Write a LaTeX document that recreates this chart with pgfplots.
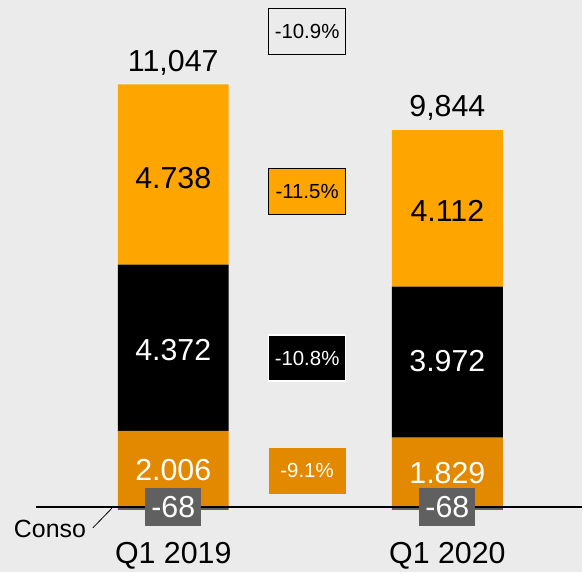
\documentclass[border=0pt]{standalone}
\usepackage{pgfplots}
\pgfplotsset{compat=1.18}
\usepackage{fontspec}
\setmainfont{Liberation Sans}
\definecolor{bg}{RGB}{235,235,235}
\definecolor{topor}{RGB}{255,165,0}
\definecolor{botor}{RGB}{226,137,0}
\definecolor{negg}{RGB}{96,96,96}
\tikzset{
 big/.style={font=\fontsize{30.5}{36}\selectfont},
 negbox/.style={big, fill=negg, text=white, minimum width=56bp, minimum height=38bp, inner sep=0pt},
 pct/.style={font=\fontsize{20.5}{24}\selectfont, minimum width=77bp, minimum height=46bp, inner sep=0pt}
}
\pgfplotsset{base/.style={
 scale only axis, width=583bp, height=573bp,
 xmin=0, xmax=583, ymin=-1706, ymax=13331,
 clip=false}}
\begin{document}
\begin{tikzpicture}
\begin{axis}[
 base,
 ybar stacked, bar width=111,
 axis background/.style={fill=bg},
 axis line style={draw=none},
 tick style={draw=none},
 major tick length=0pt,
 xtick={173.5,448}, xticklabels={Q1 2019, Q1 2020},
 ytick=\empty,
 xticklabel style={anchor=center, yshift=16bp, font=\fontsize{30.5}{36}\selectfont},
]
\addplot[fill=negg, draw=none] coordinates {(173.5,-68) (448,-68)};
\addplot[fill=botor, draw=none] coordinates {(173.5,2006) (448,1829)};
\addplot[fill=black, draw=none] coordinates {(173.5,4372) (448,3972)};
\addplot[fill=topor, draw=none] coordinates {(173.5,4738) (448,4112)};
\end{axis}
\begin{axis}[base, hide axis]
\draw[black, line width=1.6pt] (axis cs:36,0) -- (axis cs:583,0);
\draw[black, line width=0.8pt] (axis cs:93,-540) -- (axis cs:112,-26);
\node[font=\fontsize{25}{30}\selectfont] at (axis cs:50,-560) {Conso};

\node[big, text=white] at (axis cs:173.5,990) {2.006};
\node[big, text=white] at (axis cs:173.5,4124) {4.372};
\node[big, text=black] at (axis cs:173.5,8650) {4.738};
\node[big, text=black] at (axis cs:173.5,11678) {11,047};
\node[big, text=white] at (axis cs:448,890) {1.829};
\node[big, text=white] at (axis cs:448,3830) {3.972};
\node[big, text=black] at (axis cs:448,7790) {4.112};
\node[big, text=black] at (axis cs:448,10497) {9,844};
\node[negbox] at (axis cs:173.5,0) {-68};
\node[negbox] at (axis cs:448,0) {-68};

\node[pct, draw=black, line width=1.2pt, fill=bg] at (axis cs:307.5,12504) {-10.9\%};
\node[pct, draw=black, line width=1.2pt, fill=topor] at (axis cs:307.5,8306) {-11.5\%};
\node[pct, draw=white, line width=1.6pt, fill=black, text=white] at (axis cs:307.5,3923) {-10.8\%};
\node[pct, fill=botor, text=white] at (axis cs:307.5,958) {-9.1\%};
\end{axis}
\end{tikzpicture}
\end{document}
